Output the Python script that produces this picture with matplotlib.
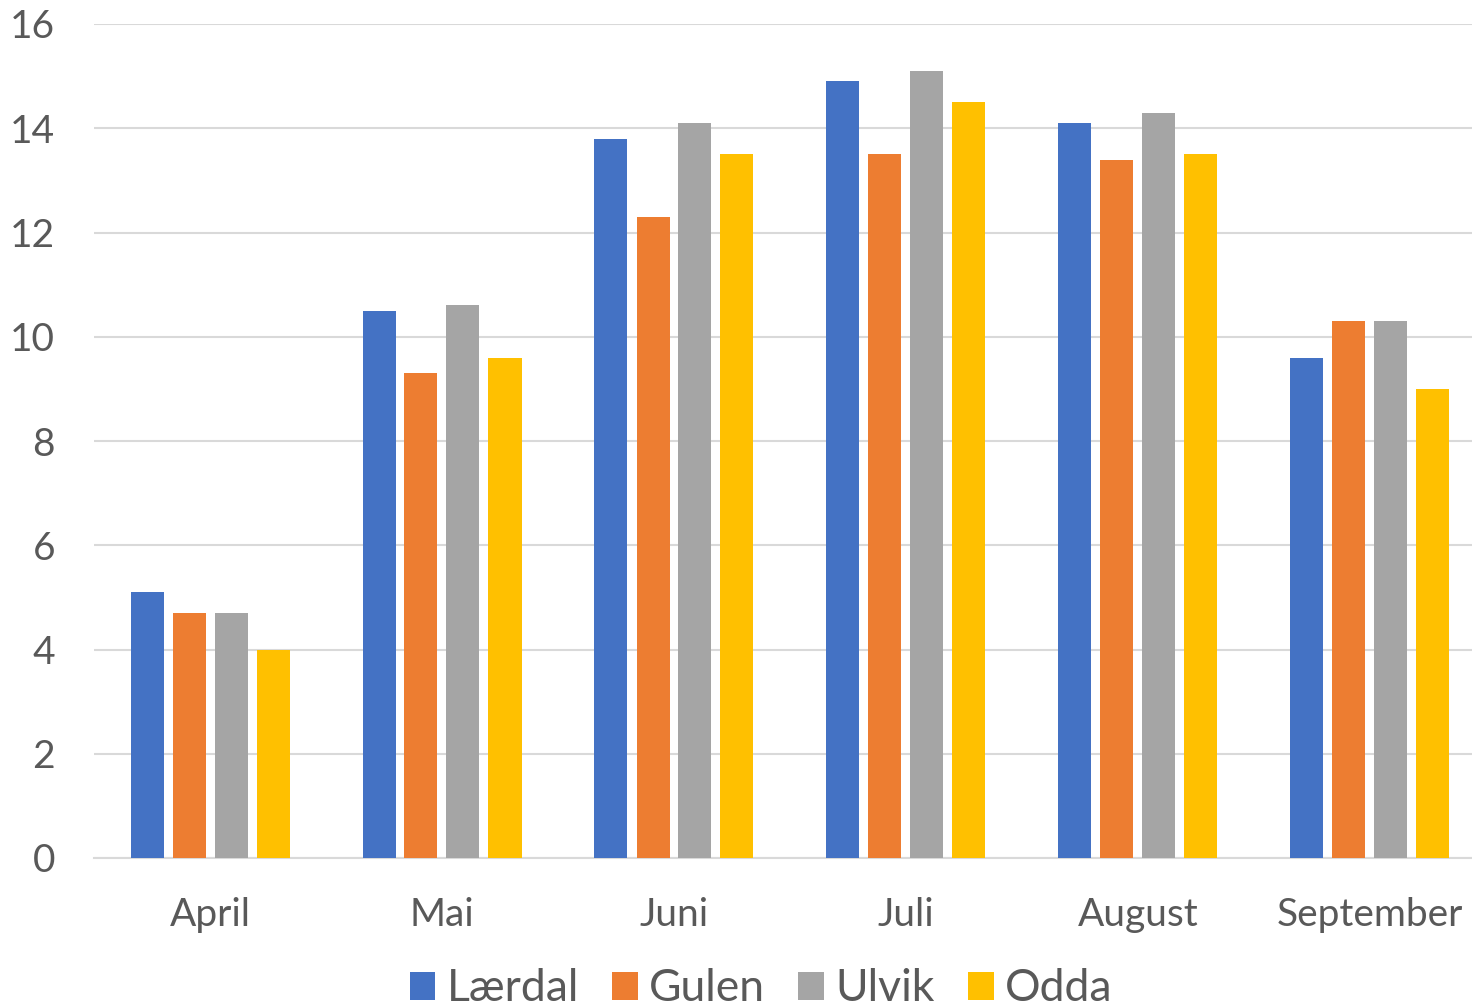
import matplotlib.pyplot as plt
import numpy as np

months = ['April', 'Mai', 'Juni', 'Juli', 'August', 'September']
laerdal = [5.1, 10.5, 13.8, 14.9, 14.1, 9.6]
gulen = [4.7, 9.3, 12.3, 13.5, 13.4, 10.3]
ulvik = [4.7, 10.6, 14.1, 15.1, 14.3, 10.3]
odda = [4.0, 9.6, 13.5, 14.5, 13.5, 9.0]
series = ['Lærdal', 'Gulen', 'Ulvik', 'Odda']
colors = ['#4472C4', '#ED7D31', '#A5A5A5', '#FFC000']

plt.rcParams['font.family'] = ['Lato', 'DejaVu Sans']
text_color = '#595959'

fig = plt.figure(figsize=(14.72, 10.07), dpi=100)
# plot area runs a bit past the right edge, like the original
ax = fig.add_axes([94 / 1472, 149 / 1007, 1392 / 1472, 834 / 1007])

x = np.arange(len(months))
pitch = 42 / 232
width = 33 / 232
for i, (vals, name, c) in enumerate(zip([laerdal, gulen, ulvik, odda], series, colors)):
    ax.bar(x + (i - 1.5) * pitch, vals, width, color=c, label=name, zorder=3)

ax.set_xlim(-0.5, len(months) - 0.5)
ax.set_ylim(0, 16)
ax.set_yticks(range(0, 17, 2))
ax.yaxis.grid(True, color='#D9D9D9', linewidth=1.5, zorder=0)
for s in ['top', 'right', 'left']:
    ax.spines[s].set_visible(False)
ax.spines['bottom'].set_color('#D9D9D9')
ax.spines['bottom'].set_linewidth(1.5)
ax.set_xticks(x)
ax.set_xticklabels(months)
ax.tick_params(axis='both', length=0, labelsize=28, colors=text_color)
ax.tick_params(axis='x', pad=28)
ax.tick_params(axis='y', pad=28)

leg = fig.legend(loc='center', bbox_to_anchor=(0.517, 0.018), ncol=4, frameon=False,
                 fontsize=32, handlelength=0.58, handleheight=0.58,
                 handletextpad=0.25, columnspacing=0.75, borderpad=0)
for t in leg.get_texts():
    t.set_color(text_color)

plt.savefig('out.png', dpi=100)
